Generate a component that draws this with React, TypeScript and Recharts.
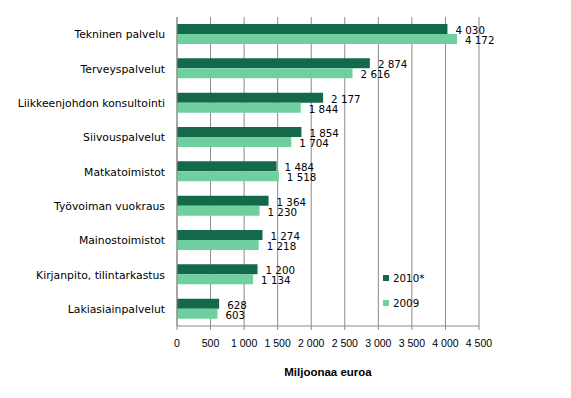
import { Bar, BarChart, CartesianGrid, Label, LabelList, Legend, XAxis, YAxis } from 'recharts';

const categories = [
  'Tekninen palvelu',
  'Terveyspalvelut',
  'Liikkeenjohdon konsultointi',
  'Siivouspalvelut',
  'Matkatoimistot',
  'Työvoiman vuokraus',
  'Mainostoimistot',
  'Kirjanpito, tilintarkastus',
  'Lakiasiainpalvelut'
];
const values2010 = [4030, 2874, 2177, 1854, 1484, 1364, 1274, 1200, 628];
const values2009 = [4172, 2616, 1844, 1704, 1518, 1230, 1218, 1134, 603];
const seriesNames = ['2010*', '2009'];
const xTicks = [0, 500, 1000, 1500, 2000, 2500, 3000, 3500, 4000, 4500];

const DARK = '#14694a';
const LIGHT = '#70cf9f';
const GRID = '#8a8a8a';
const LABEL_FONT = '"DejaVu Sans", Verdana, sans-serif';
const TICK_FONT = '"Liberation Sans", Arial, sans-serif';

function formatNumber(value: number): string {
  return String(value).replace(/\B(?=(\d{3})+(?!\d))/g, ' ');
}

const data = categories.map((name, i) => ({
  name,
  v2010: values2010[i],
  v2009: values2009[i]
}));

function renderLegend(props: any) {
  const items = [...(props.payload ?? [])].sort(
    (a: any, b: any) => seriesNames.indexOf(a.value) - seriesNames.indexOf(b.value)
  );
  return (
    <div>
      {items.map((item: any) => (
        <div
          key={item.value}
          style={{ display: 'flex', alignItems: 'center', height: 25, fontFamily: LABEL_FONT, fontSize: 10.3 }}
        >
          <span style={{ width: 6, height: 6, background: item.color, marginRight: 4, display: 'inline-block' }} />
          <span>{item.value}</span>
        </div>
      ))}
    </div>
  );
}

function CategoryTick(props: any) {
  const { x, y, payload } = props;
  return (
    <text
      x={x}
      y={y}
      dy="0.4em"
      textAnchor="end"
      fill="#000"
      fontSize={10.8}
      fontFamily={LABEL_FONT}
    >
      {payload.value}
    </text>
  );
}

export default function App() {
  return (
    <div style={{ position: 'absolute', left: 0, top: 0, background: '#fff' }}>
      <BarChart
        width={571}
        height={398}
        data={data}
        layout="vertical"
        margin={{ top: 17, right: 92, bottom: 16, left: 0 }}
        barGap={0}
        barSize={10}
      >
        <CartesianGrid horizontal={false} stroke={GRID} />
        <XAxis
          type="number"
          domain={[0, 4500]}
          ticks={xTicks}
          interval={0}
          tickFormatter={formatNumber}
          stroke={GRID}
          tickSize={4}
          tickMargin={10}
          height={56}
          tick={{ fill: '#000', fontSize: 10.5, fontFamily: TICK_FONT }}
        >
          <Label
            value="Miljoonaa euroa"
            position="insideBottom"
            offset={6}
            style={{ fill: '#000', fontSize: 11.5, fontWeight: 'bold', fontFamily: TICK_FONT }}
          />
        </XAxis>
        <YAxis
          type="category"
          dataKey="name"
          width={177}
          interval={0}
          tickLine={false}
          tickSize={0}
          tickMargin={12}
          stroke={GRID}
          tick={<CategoryTick />}
        />
        <Legend
          layout="horizontal"
          verticalAlign="middle"
          align="center"
          content={renderLegend}
          wrapperStyle={{ position: 'absolute', left: 383, top: 265, width: 80, height: 50 }}
        />
        <Bar dataKey="v2010" name={seriesNames[0]} fill={DARK} isAnimationActive={false}>
          <LabelList
            dataKey="v2010"
            position="right"
            offset={8}
            formatter={(v: any) => formatNumber(Number(v))}
            style={{ fill: '#000', fontSize: 10.3, fontFamily: LABEL_FONT }}
            dy={1.5}
          />
        </Bar>
        <Bar dataKey="v2009" name={seriesNames[1]} fill={LIGHT} isAnimationActive={false}>
          <LabelList
            dataKey="v2009"
            position="right"
            offset={8}
            formatter={(v: any) => formatNumber(Number(v))}
            style={{ fill: '#000', fontSize: 10.3, fontFamily: LABEL_FONT }}
            dy={1.5}
          />
        </Bar>
      </BarChart>
    </div>
  );
}
